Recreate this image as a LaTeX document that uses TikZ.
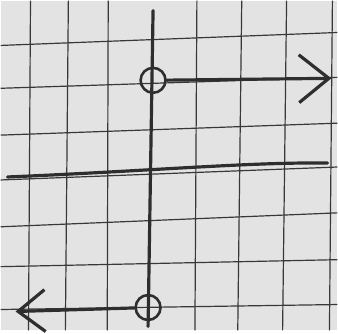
\documentclass[tikz,border=0pt]{standalone}
\usetikzlibrary{arrows.meta}
\begin{document}
\begin{tikzpicture}[x=1pt,y=-1pt,
  gridline/.style={line width=1.2pt, black!78},
  pen/.style={line width=3.2pt, black!82, line cap=round},
  hole/.style={circle, draw=black!82, line width=2.6pt, minimum size=25pt, inner sep=0pt}]
\fill[black!11] (0,0) rectangle (338,331);
% grid of the paper
\foreach \a/\b in {30/28, 68/65, 108/107, 197/195, 242/238, 287/283, 333/330}
  \draw[gridline] (\a,0) -- (\b,331);
\foreach \a/\b in {45/32, 88/77, 135/123, 180/167, 227/213, 267/260, 310/305}
  \draw[gridline] (0,\a) -- (338,\b);
% axes
\draw[pen] (153,10) -- (148,327);
\draw[pen] (7,177) .. controls (150,171) and (250,162) .. (328,163);
% open circles and rays
\node[hole] (top) at (153,80) {};
\node[hole] (bot) at (148,308) {};
\coordinate (rend) at (332,78);
\coordinate (lend) at (15,312);
\draw[pen, -{Straight Barb[length=30pt,width=48pt]}] (top) -- (rend);
\draw[pen, -{Straight Barb[length=27pt,width=42pt]}] (bot) -- (lend);
\end{tikzpicture}
\end{document}
